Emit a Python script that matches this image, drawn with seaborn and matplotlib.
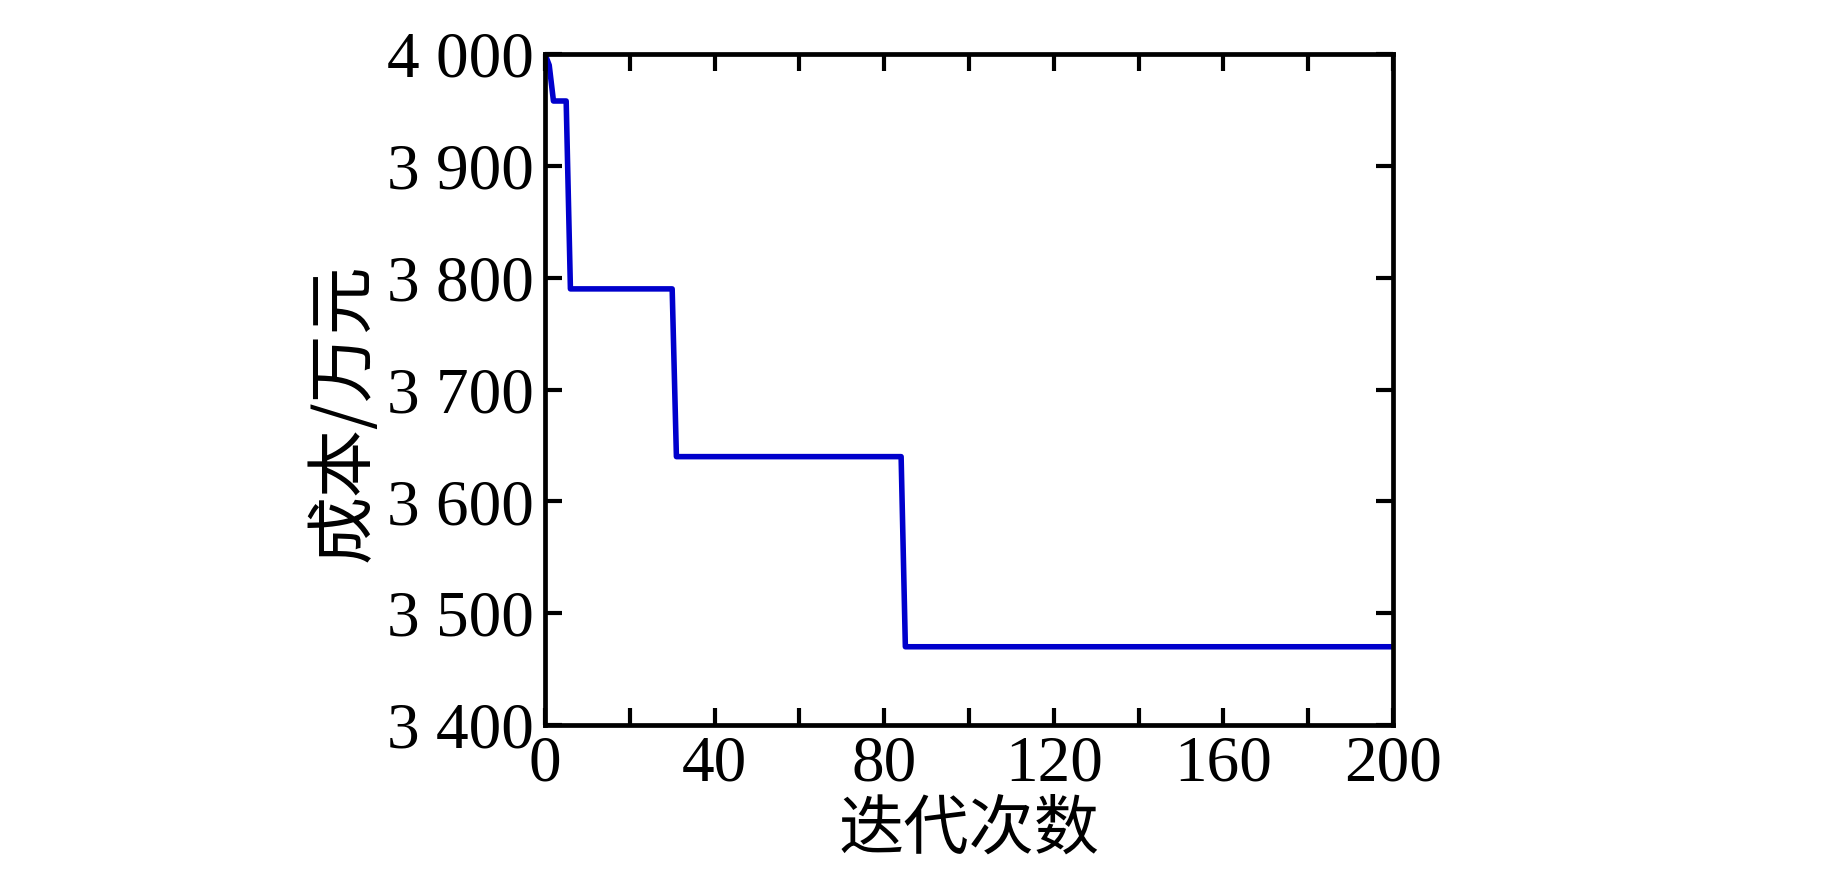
import matplotlib
matplotlib.use("Agg")
import matplotlib.pyplot as plt
import seaborn as sns
import pandas as pd

# Data
iterations = [0, 1, 2, 5, 6, 30, 31, 84, 85, 200]
cost = [4000, 3990, 3958, 3958, 3790, 3790, 3640, 3640, 3470, 3470]

y_ticks = [3400, 3500, 3600, 3700, 3800, 3900, 4000]
y_tick_labels = ["3 400", "3 500", "3 600", "3 700", "3 800", "3 900", "4 000"]
x_ticks = [0, 40, 80, 120, 160, 200]
x_tick_labels = ["0", "40", "80", "120", "160", "200"]
x_minor_ticks = [20, 60, 100, 140, 180]

x_label = "迭代次数"
y_label = "成本/万元"

sns.set_theme(style="ticks")
plt.rcParams["font.family"] = ["Liberation Serif", "Noto Sans CJK SC", "DejaVu Sans"]

df = pd.DataFrame({"iter": iterations, "cost": cost})

fig = plt.figure(figsize=(18.43, 8.8), dpi=100)
ax = fig.add_axes([0.2957, 0.1761, 0.4601, 0.7625])

sns.lineplot(data=df, x="iter", y="cost", ax=ax,
             color="#0000CC", linewidth=4.0, sort=True, estimator=None)

ax.set_xlim(0, 200)
ax.set_ylim(3400, 4000)
ax.set_xticks(x_ticks)
ax.set_xticklabels(x_tick_labels)
ax.set_xticks(x_minor_ticks, minor=True)
ax.set_yticks(y_ticks)
ax.set_yticklabels(y_tick_labels)

for s in ax.spines.values():
    s.set_visible(True)
    s.set_linewidth(3.4)
    s.set_color("black")

ax.tick_params(axis="both", which="both", direction="in", top=True, right=True,
               length=12, width=3, color="black", labelsize=47, labelcolor="black")
ax.tick_params(axis="x", which="major", pad=7)
ax.tick_params(axis="y", which="major", pad=8)

ax.set_xlabel(x_label, fontsize=47, family=["Noto Sans CJK SC", "DejaVu Sans"], color="black")
ax.set_ylabel(y_label, fontsize=49, family=["Noto Sans CJK SC", "DejaVu Sans"], color="black")
ax.xaxis.set_label_coords(0.5, -0.108)
ax.yaxis.set_label_coords(-0.195, 0.465)

fig.savefig("out.png", dpi=100, facecolor="white")
